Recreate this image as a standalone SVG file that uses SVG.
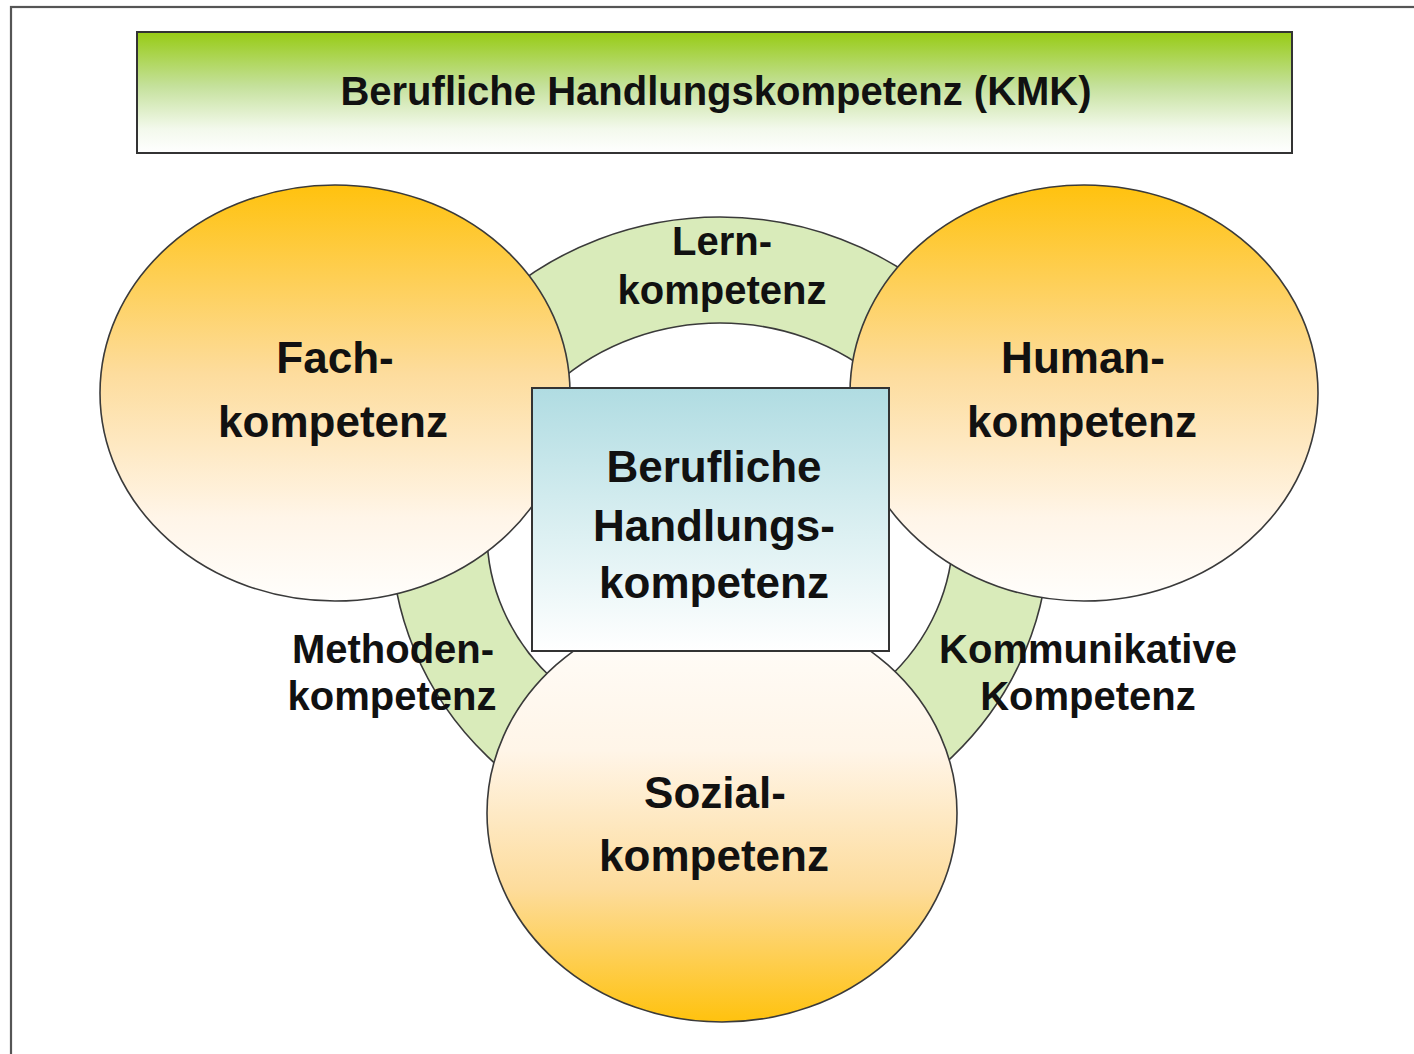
<svg xmlns="http://www.w3.org/2000/svg" width="1414" height="1054" viewBox="0 0 1414 1054">
<defs>
<linearGradient id="gTitle" x1="0" y1="0" x2="0" y2="1">
<stop offset="0" stop-color="#97cb14"/>
<stop offset="0.45" stop-color="#c5e19c"/>
<stop offset="0.8" stop-color="#f3f9ec"/>
<stop offset="1" stop-color="#ffffff"/>
</linearGradient>
<linearGradient id="gTop" x1="0" y1="0" x2="0" y2="1">
<stop offset="0" stop-color="#ffc20e"/>
<stop offset="0.45" stop-color="#fddc9c"/>
<stop offset="0.8" stop-color="#fff5e8"/>
<stop offset="1" stop-color="#fffefc"/>
</linearGradient>
<linearGradient id="gBottom" x1="0" y1="0" x2="0" y2="1">
<stop offset="0" stop-color="#fffefc"/>
<stop offset="0.35" stop-color="#fff5e8"/>
<stop offset="0.68" stop-color="#fddc9c"/>
<stop offset="1" stop-color="#ffc20e"/>
</linearGradient>
<linearGradient id="gBox" x1="0" y1="0" x2="0" y2="1">
<stop offset="0" stop-color="#b0dce2"/>
<stop offset="0.55" stop-color="#dcf0f2"/>
<stop offset="1" stop-color="#ffffff"/>
</linearGradient>
</defs>
<style>
.lbl{font-family:"Liberation Sans",Arial,sans-serif;font-weight:bold;fill:#111;text-anchor:middle}
.big{font-size:44px}
.mid{font-size:40px}
.edge{stroke:#3a3a3a;stroke-width:1.6}
</style>
<rect x="0" y="0" width="1414" height="1054" fill="#ffffff"/>
<rect x="11" y="7" width="1420" height="1060" fill="none" stroke="#555" stroke-width="2.2"/>

<g id="title">
<rect x="137" y="32" width="1155" height="121" fill="url(#gTitle)" stroke="#333" stroke-width="2"/>
<text class="lbl mid" x="716" y="105">Berufliche Handlungskompetenz (KMK)</text>
</g>

<g id="connectors">
<path id="ring" class="edge" fill="#d9ebba" fill-rule="evenodd" d="M391,533 a329,316 0 1,0 658,0 a329,316 0 1,0 -658,0 Z M487,533 a233,210 0 1,0 466,0 a233,210 0 1,0 -466,0 Z"/>
</g>

<g id="fach">
<ellipse class="edge" cx="335" cy="393" rx="235" ry="208" fill="url(#gTop)"/>
<text class="lbl big" x="335" y="373">Fach-</text>
<text class="lbl big" x="333" y="437">kompetenz</text>
</g>

<g id="human">
<ellipse class="edge" cx="1084" cy="393" rx="234" ry="208" fill="url(#gTop)"/>
<text class="lbl big" x="1083" y="373">Human-</text>
<text class="lbl big" x="1082" y="437">kompetenz</text>
</g>

<g id="sozial">
<ellipse class="edge" cx="722" cy="813" rx="235" ry="209" fill="url(#gBottom)"/>
<text class="lbl big" x="715" y="808">Sozial-</text>
<text class="lbl big" x="714" y="871">kompetenz</text>
</g>

<g id="center">
<rect x="532" y="388" width="357" height="263" fill="url(#gBox)" stroke="#333" stroke-width="2"/>
<text class="lbl big" x="714" y="482">Berufliche</text>
<text class="lbl big" x="714" y="541">Handlungs-</text>
<text class="lbl big" x="714" y="598">kompetenz</text>
</g>

<g id="lern">
<text class="lbl mid" x="722" y="255">Lern-</text>
<text class="lbl mid" x="722" y="304">kompetenz</text>
</g>

<g id="methoden">
<text class="lbl mid" x="393" y="663">Methoden-</text>
<text class="lbl mid" x="392" y="710">kompetenz</text>
</g>

<g id="kommunikativ">
<text class="lbl mid" x="1088" y="663">Kommunikative</text>
<text class="lbl mid" x="1088" y="710">Kompetenz</text>
</g>
</svg>
